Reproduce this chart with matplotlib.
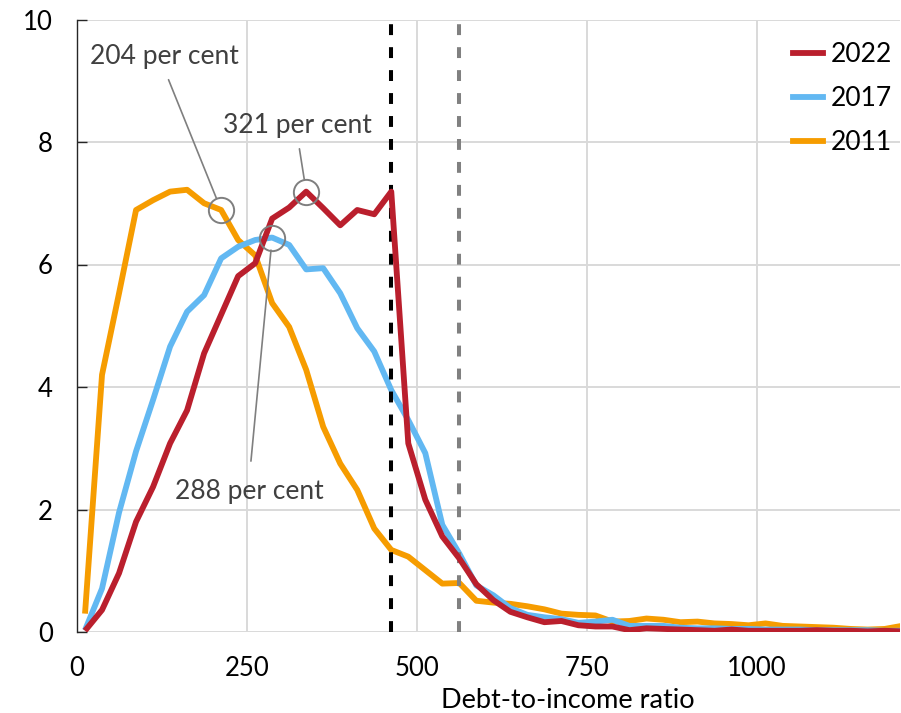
import matplotlib
matplotlib.use("Agg")
import matplotlib.pyplot as plt
from matplotlib.lines import Line2D

# ---------------- data ----------------
dti_bins = [12.5, 37.5, 62.5, 87.5, 112.5, 137.5, 162.5, 187.5, 212.5, 237.5,
            262.5, 287.5, 312.5, 337.5, 362.5, 387.5, 412.5, 437.5, 462.5, 487.5,
            512.5, 537.5, 562.5, 587.5, 612.5, 637.5, 662.5, 687.5, 712.5, 737.5,
            762.5, 787.5, 812.5, 837.5, 862.5, 887.5, 912.5, 937.5, 962.5, 987.5,
            1012.5, 1037.5, 1062.5, 1087.5, 1112.5, 1137.5, 1162.5, 1187.5, 1212.5]

share_2011 = [0.30, 4.20, 5.53, 6.89, 7.05, 7.19, 7.22, 7.00, 6.89, 6.40,
              6.15, 5.37, 4.98, 4.28, 3.35, 2.75, 2.32, 1.69, 1.34, 1.23,
              1.01, 0.79, 0.80, 0.51, 0.48, 0.46, 0.42, 0.37, 0.30, 0.28,
              0.27, 0.17, 0.18, 0.22, 0.20, 0.16, 0.17, 0.14, 0.13, 0.11,
              0.14, 0.10, 0.09, 0.08, 0.07, 0.05, 0.04, 0.05, 0.10]

share_2017 = [0.03, 0.71, 1.95, 2.95, 3.79, 4.66, 5.23, 5.50, 6.10, 6.29,
              6.40, 6.44, 6.32, 5.92, 5.94, 5.53, 4.96, 4.58, 3.95, 3.46,
              2.92, 1.75, 1.28, 0.76, 0.60, 0.39, 0.28, 0.24, 0.21, 0.15,
              0.17, 0.20, 0.10, 0.10, 0.10, 0.07, 0.06, 0.06, 0.05, 0.05,
              0.04, 0.04, 0.04, 0.03, 0.03, 0.03, 0.03, 0.02, 0.02]

share_2022 = [0.02, 0.36, 0.96, 1.80, 2.37, 3.08, 3.62, 4.55, 5.18, 5.81,
              6.02, 6.75, 6.93, 7.19, 6.92, 6.64, 6.89, 6.82, 7.19, 3.08,
              2.16, 1.56, 1.20, 0.78, 0.52, 0.33, 0.24, 0.16, 0.18, 0.11,
              0.09, 0.09, 0.03, 0.06, 0.05, 0.04, 0.03, 0.02, 0.04, 0.02,
              0.02, 0.02, 0.02, 0.03, 0.02, 0.02, 0.01, 0.02, 0.01]

series_names = ["2011", "2017", "2022"]
series_colors = {"2011": "#F69C00", "2017": "#62B8F2", "2022": "#BA1F2D"}
series_values = {"2011": share_2011, "2017": share_2017, "2022": share_2022}
legend_order = ["2022", "2017", "2011"]

threshold_x = [462.5, 562.5]
threshold_colors = ["#000000", "#808080"]

ann_labels = ["204 per cent", "321 per cent", "288 per cent"]
ann_series = ["2011", "2022", "2017"]
ann_bin = [212.5, 337.5, 287.5]

x_ticks = [0, 250, 500, 750, 1000]
y_ticks = [0, 2, 4, 6, 8, 10]
x_label = "Debt-to-income ratio"

# ---------------- figure ----------------
plt.rcParams["font.family"] = ["Lato", "DejaVu Sans"]
W, H = 901, 713
fig = plt.figure(figsize=(W / 100, H / 100), dpi=100)
ax = fig.add_axes([76.5 / W, (H - 632) / H, (900 - 76.5) / W, (632 - 19.5) / H])

ax.set_xlim(0, 1210)
ax.set_ylim(0, 10)

grid_c = "#D9D9D9"
ax.set_xticks(x_ticks)
ax.set_yticks(y_ticks)
ax.grid(True, color=grid_c, linewidth=1.4, zorder=0)
ax.set_axisbelow(True)
for s in ["top", "right", "bottom"]:
    ax.spines[s].set_visible(False)
ax.spines["left"].set_color("#262626")
ax.spines["left"].set_linewidth(1.0)
ax.spines["left"].set_zorder(5)

ax.tick_params(axis="x", length=0, pad=17, labelsize=18.5, labelcolor="#000000")
ax.tick_params(axis="y", direction="in", length=7.2, width=1.0, color="#262626",
               pad=17, labelsize=18.5, labelcolor="#000000")

# series
for name in series_names:
    ax.plot(dti_bins, series_values[name], color=series_colors[name], lw=4.2,
            solid_joinstyle="round", solid_capstyle="butt",
            zorder=3 if name != "2022" else 4, clip_on=True)

# thresholds
for xv, c in zip(threshold_x, threshold_colors):
    ax.axvline(xv, color=c, lw=2.9, linestyle=(0, (2.7, 3.0)), zorder=3.5)

# annotations (circles + leader lines)
txt_pos = [(129.0, 9.27), (325.0, 8.15), (253.8, 2.17)]
rel = [(0.5, 0.0), (0.5, 0.0), (0.5, 1.0)]
shrinkA = [6, 6, 11]
for lab, sname, b, tp, rp, sa in zip(ann_labels, ann_series, ann_bin, txt_pos, rel, shrinkA):
    yv = series_values[sname][dti_bins.index(b)]
    ax.plot([b], [yv], marker="o", ms=18.2, mfc="none", mec="#7F7F7F", mew=1.4,
            zorder=6, clip_on=False)
    ax.annotate(lab, xy=(b, yv), xytext=tp, textcoords="data",
                ha="center", va="baseline", fontsize=19, color="#404040",
                arrowprops=dict(arrowstyle="-", color="#7F7F7F", lw=1.2,
                                shrinkA=sa, shrinkB=9.1, relpos=rp),
                zorder=6)

# legend
handles = [Line2D([], [], color=series_colors[n], lw=4.2) for n in legend_order]
leg = ax.legend(handles, legend_order, loc="upper left",
                bbox_to_anchor=(793 / W, (H - 42) / H), bbox_transform=fig.transFigure,
                frameon=False, fontsize=19, handlelength=1.14, handletextpad=0.3,
                labelspacing=0.72, borderpad=0, borderaxespad=0)

# x label
ax.set_xlabel(x_label, fontsize=19.5, color="#000000")
ax.xaxis.set_label_coords((567.5 - 76.5) / (900 - 76.5), -(701 - 632) / (632 - 19.5))
ax.xaxis.label.set_va("center")

fig.savefig("out.png", dpi=100)
